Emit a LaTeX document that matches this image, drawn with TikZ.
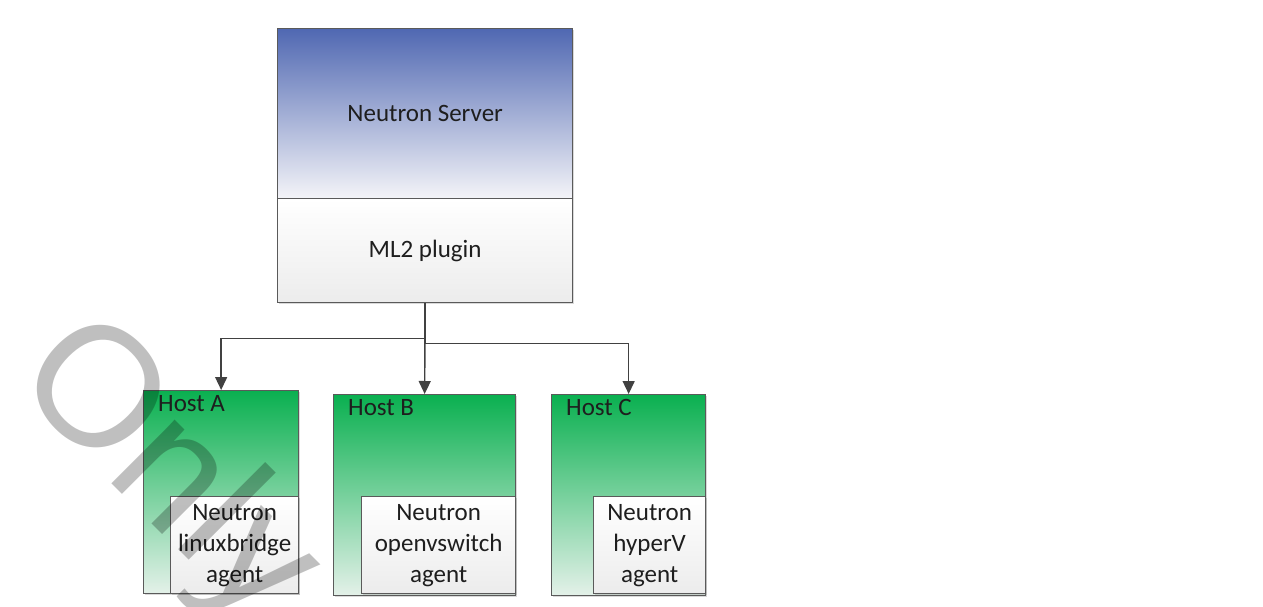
\documentclass[tikz,border=0pt]{standalone}
\usepackage{fontspec}
\setmainfont{Carlito}
\newfontfamily\wmfont{Liberation Sans}
\usetikzlibrary{arrows.meta,shadows,positioning}
\definecolor{boxline}{RGB}{90,90,90}
\definecolor{arrowgrey}{RGB}{65,65,65}
\definecolor{txt}{RGB}{30,30,30}
\definecolor{srvtop}{RGB}{80,104,178}
\definecolor{srvbot}{RGB}{244,244,248}
\definecolor{plainbot}{RGB}{236,236,236}
\definecolor{hosttop}{RGB}{10,176,80}
\definecolor{hostbot}{RGB}{228,241,233}

\begin{document}
\begin{tikzpicture}[x=1pt,y=-1pt,
    box/.style={rectangle, draw=boxline, line width=1.3pt, inner sep=0pt, anchor=north west,
        text=txt, font=\fontsize{25}{31}\selectfont, align=center,
        drop shadow={shadow xshift=1.5pt, shadow yshift=-1.5pt, opacity=0.3}},
    server/.style={box, top color=srvtop, bottom color=srvbot},
    plain/.style={box, top color=white, bottom color=plainbot},
    host/.style={box, top color=hosttop, bottom color=hostbot},
    hostname/.style={anchor=base west, xshift=15pt, yshift=-21pt, inner sep=0pt,
        text=txt, font=\fontsize{25}{31}\selectfont},
    conn/.style={draw=arrowgrey, line width=1.4pt, -{Triangle[width=12pt,length=13pt]}},
    watermark/.style={rotate=-45, inner sep=0pt, text=black, text opacity=0.25,
        font=\wmfont\fontsize{170}{170}\selectfont}
]
\useasboundingbox (0,0) rectangle (1263,607);

\node[server, minimum width=295pt, minimum height=170pt] (server) at (277,28) {Neutron Server};
\node[plain, minimum width=295pt, minimum height=104pt] (plugin) at (277,198) {ML2 plugin};

\node[host, minimum width=155pt, minimum height=203pt,
    label={[hostname]north west:Host A}] (hostA) at (143,390) {};
\node[host, minimum width=182pt, minimum height=201pt,
    label={[hostname]north west:Host B}] (hostB) at (333,394) {};
\node[host, minimum width=154pt, minimum height=201pt,
    label={[hostname]north west:Host C}] (hostC) at (551,394) {};

\node[plain, minimum width=128pt, minimum height=97pt] (agentA) at (170,496) {Neutron\\linuxbridge\\agent};
\node[plain, minimum width=154pt, minimum height=97pt] (agentB) at (361,496) {Neutron\\openvswitch\\agent};
\node[plain, minimum width=112pt, minimum height=97pt] (agentC) at (593,496) {Neutron\\hyperV\\agent};

\draw[conn] (plugin.south) -- ++(0,35) -| (hostA.north);
\draw[conn] (plugin.south) -- (hostB.north);
\draw[conn] (plugin.south) -- ++(0,40) -| (hostC.north);

\node[watermark] (wm) at (165,474) {Only};
\end{tikzpicture}
\end{document}
